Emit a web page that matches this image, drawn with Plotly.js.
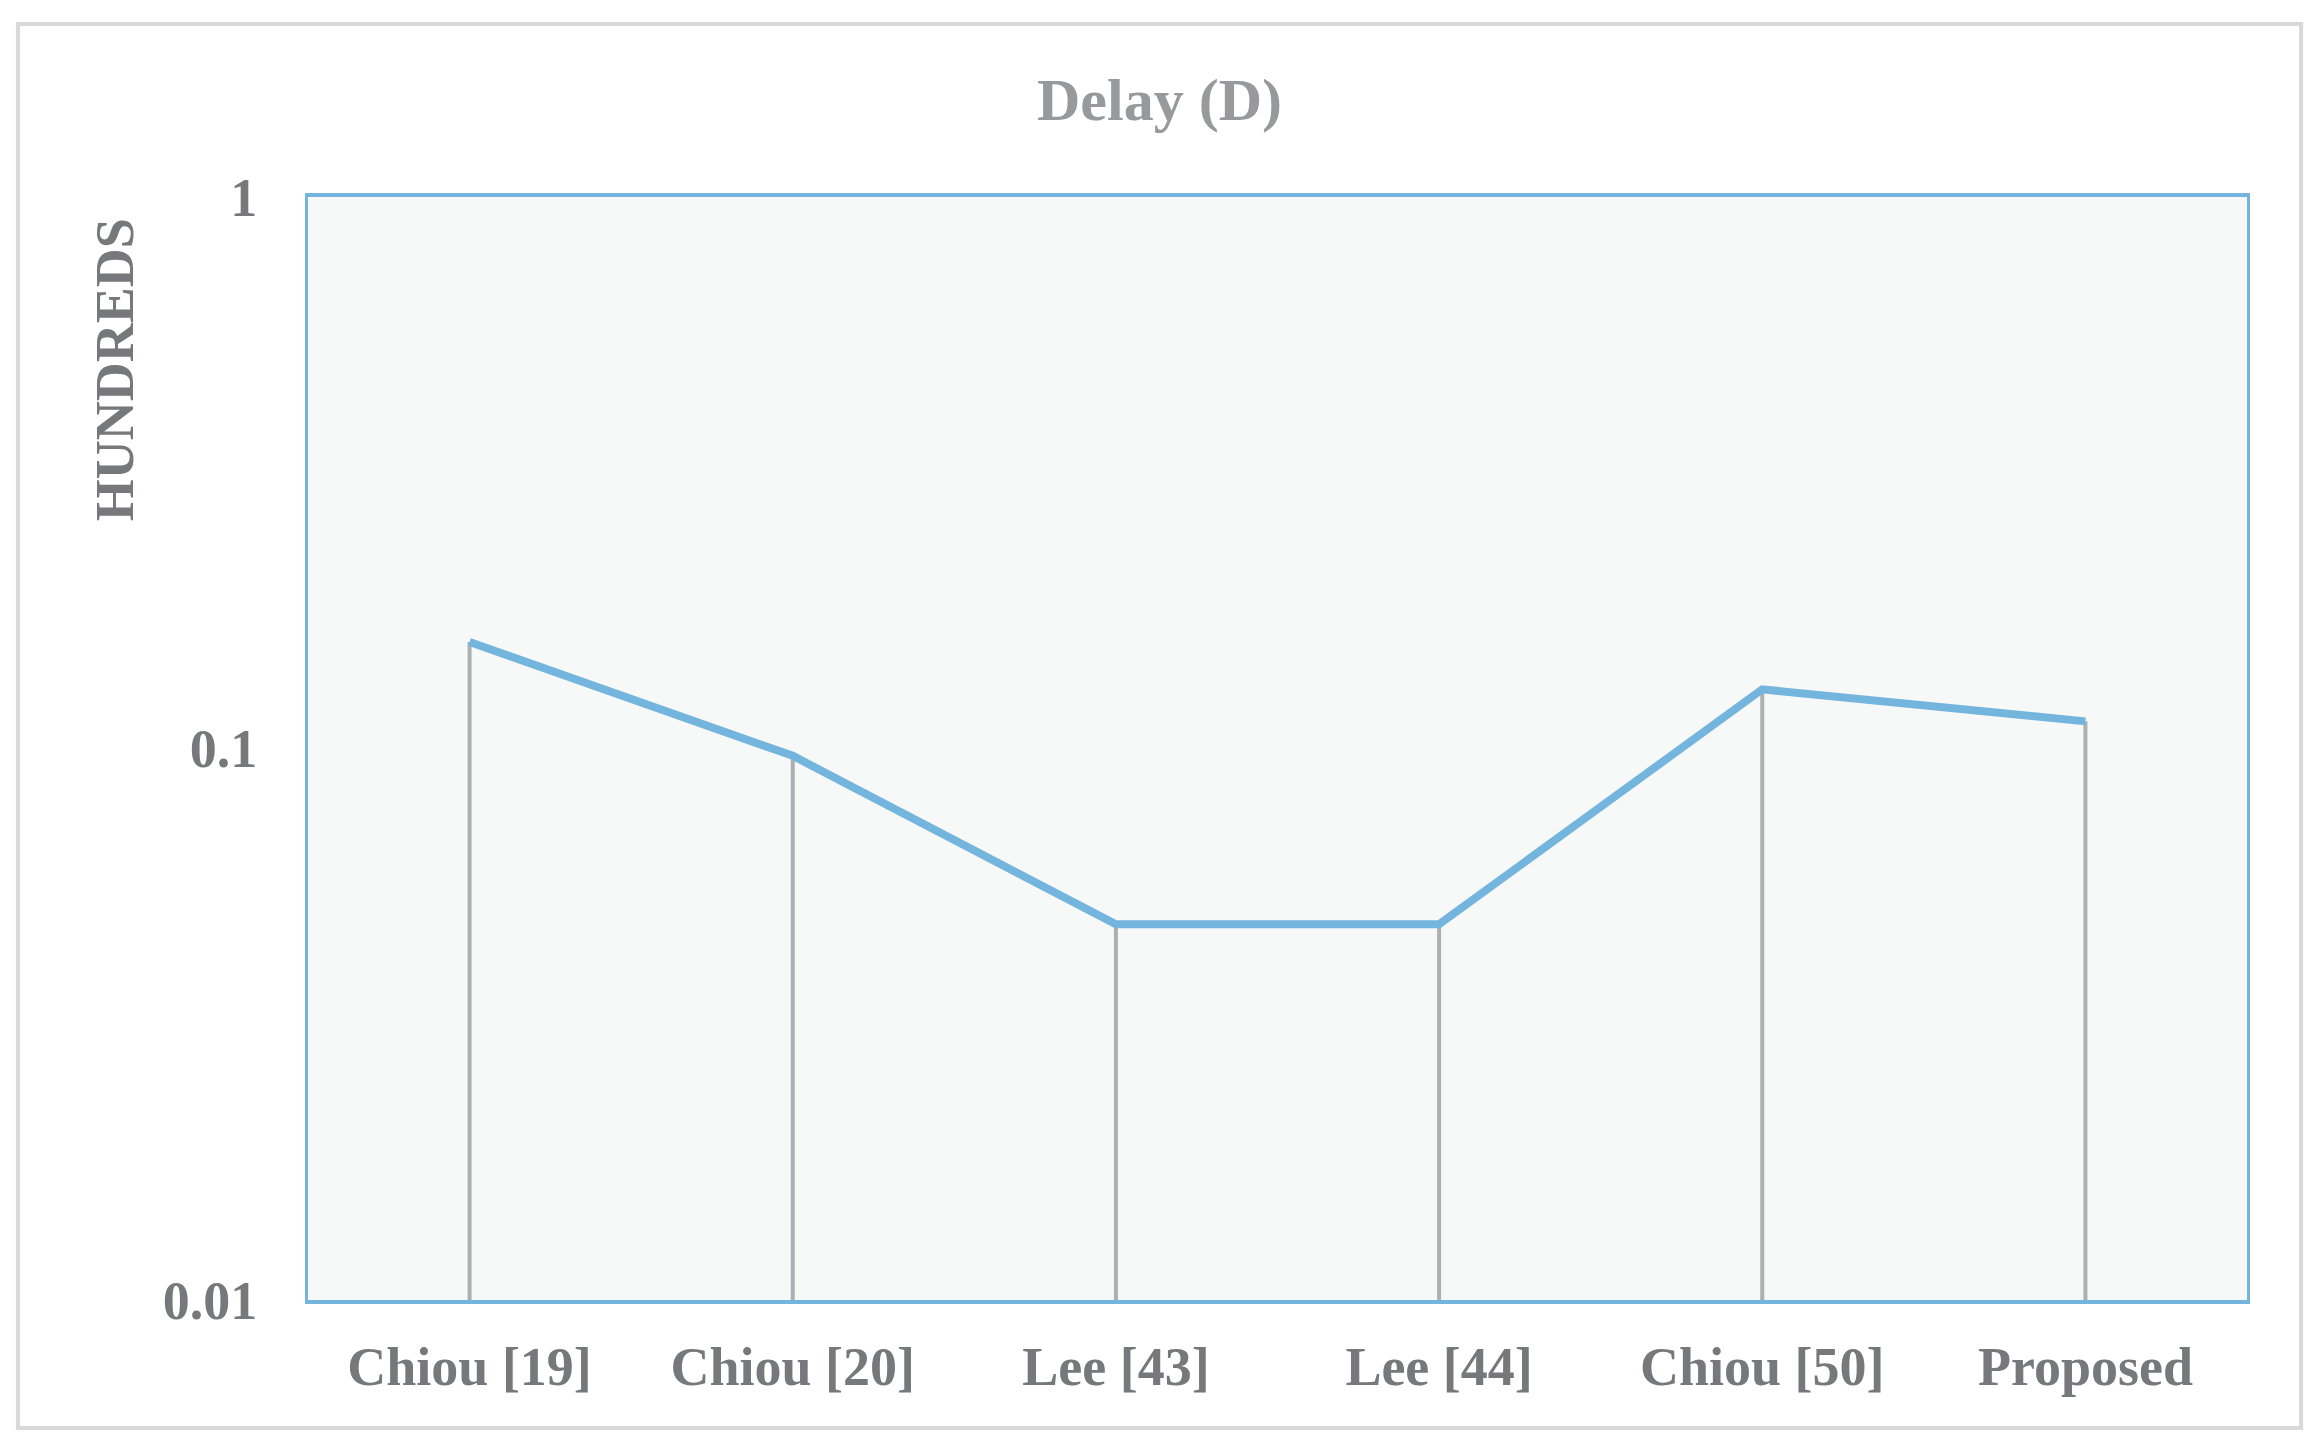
<!DOCTYPE html>
<html>
<head>
<meta charset="utf-8">
<script src="https://cdn.plot.ly/plotly-3.0.1.min.js"></script>
<style>
  html, body { margin: 0; padding: 0; background: #ffffff; }
  #chart { width: 2319px; height: 1449px; }
</style>
</head>
<body>
<div id="chart"></div>
<script>
// categories and values
var schemes = ["Chiou [19]", "Chiou [20]", "Lee [43]", "Lee [44]", "Chiou [50]", "Proposed"];
var delay = [0.156, 0.097, 0.048, 0.048, 0.128, 0.112];

var yTickVals = [0.01, 0.1, 1];
var yTickText = ["0.01", "0.1", "1"];

var axisFloor = 0.01;

// drop lines from each point to the bottom of the plot
var dropX = [];
var dropY = [];
for (var i = 0; i < schemes.length; i++) {
  dropX.push(schemes[i], schemes[i], null);
  dropY.push(axisFloor, delay[i], null);
}

var fontFam = '"Liberation Serif", "Times New Roman", serif';
var labelGray = "#77787b";

var drops = {
  x: dropX,
  y: dropY,
  type: "scatter",
  mode: "lines",
  line: {color: "#adafb2", width: 4},
  hoverinfo: "skip",
  showlegend: false
};

var series = {
  x: schemes,
  y: delay,
  type: "scatter",
  mode: "lines",
  line: {color: "#74b5de", width: 8},
  showlegend: false
};

var layout = {
  width: 2319,
  height: 1449,
  margin: {l: 308, r: 72, t: 197, b: 149},
  paper_bgcolor: "#ffffff",
  plot_bgcolor: "#f7f9f9",
  showlegend: false,
  title: {
    text: "Delay (D)",
    font: {family: fontFam, size: 60, color: "#98999c", weight: "bold"},
    x: 0.5, xref: "container", xanchor: "center",
    y: 0.932, yref: "container", yanchor: "middle"
  },
  xaxis: {
    type: "category",
    range: [-0.5, 5.5],
    showgrid: false,
    zeroline: false,
    showline: true,
    mirror: true,
    linecolor: "#74b5de",
    linewidth: 4,
    ticks: "",
    ticklabelstandoff: 16,
    tickfont: {family: fontFam, size: 54, color: labelGray, weight: "bold"}
  },
  yaxis: {
    type: "log",
    range: [-2, 0],
    tickvals: yTickVals,
    ticktext: yTickText,
    showgrid: false,
    zeroline: false,
    showline: true,
    mirror: true,
    linecolor: "#74b5de",
    linewidth: 3,
    ticks: "",
    ticklabelstandoff: 37,
    tickfont: {family: fontFam, size: 54, color: labelGray, weight: "bold"}
  },
  annotations: [{
    // y axis title sits high on the left, as in the original
    text: "HUNDREDS",
    xref: "paper", yref: "paper",
    x: -0.0995, y: 0.843,
    xanchor: "center", yanchor: "middle",
    textangle: -90,
    showarrow: false,
    font: {family: fontFam, size: 54, color: labelGray, weight: "bold"}
  }],
  shapes: [{
    type: "rect",
    xref: "paper", yref: "paper",
    x0: -0.1496, x1: 1.0279,
    y0: -0.116, y1: 1.1568,
    line: {color: "#d9d9d9", width: 4},
    fillcolor: "rgba(0,0,0,0)",
    layer: "below"
  }]
};

Plotly.newPlot("chart", [drops, series], layout, {displayModeBar: false, staticPlot: true});
</script>
</body>
</html>
